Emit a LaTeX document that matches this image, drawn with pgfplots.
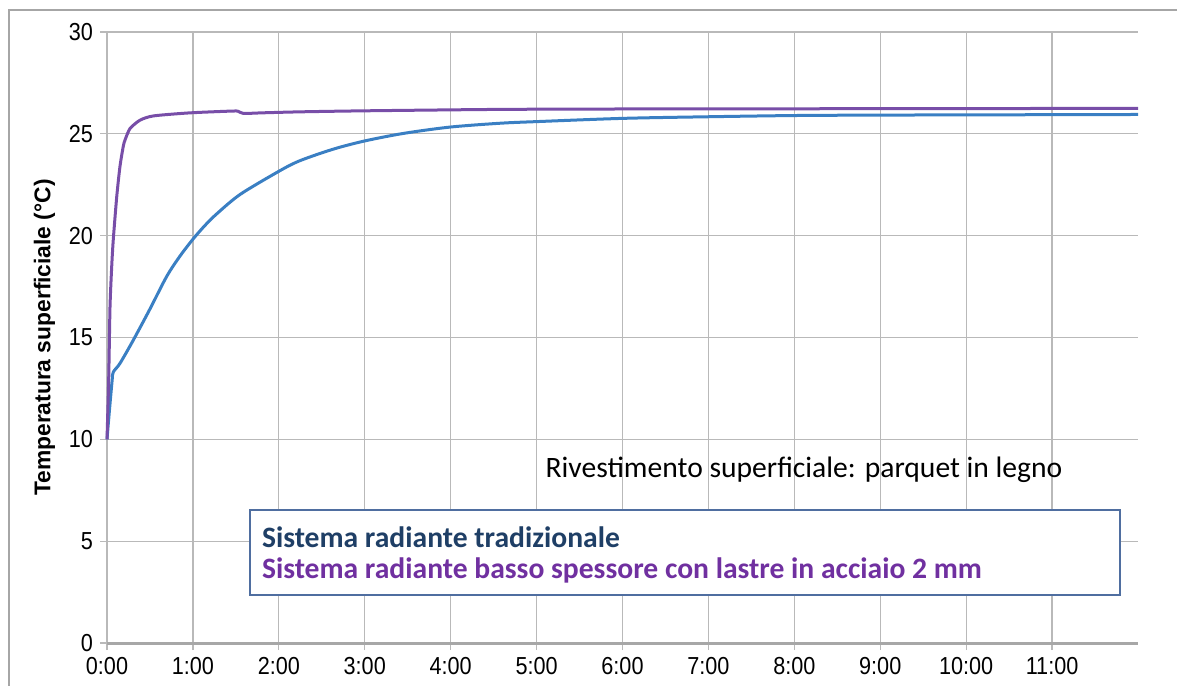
\documentclass[border=0pt]{standalone}
\usepackage{pgfplots}
\pgfplotsset{compat=1.18}
\usepackage{fontspec}
\setmainfont{Liberation Sans}
\newfontfamily\calibri{Carlito}
\newfontfamily\narrowf[FakeStretch=0.88]{Liberation Sans}
\definecolor{gridc}{RGB}{185,185,185}
\definecolor{bluec}{RGB}{58,127,195}
\definecolor{purplec}{RGB}{120,78,168}
\definecolor{navyc}{RGB}{31,63,102}
\definecolor{legpurple}{RGB}{112,48,160}
\definecolor{boxc}{RGB}{79,110,160}
\begin{document}
\begin{tikzpicture}
\useasboundingbox (-53.5pt,-21pt) rectangle (535pt,321.5pt);
\draw[gray!70, line width=0.8pt] (-49pt,-30pt) -- (-49pt,316.5pt) -- (540pt,316.5pt);
\begin{axis}[
  at={(0,0)}, anchor=south west,
  scale only axis,
  width=515.5pt, height=305.5pt,
  xmin=0, xmax=12, ymin=0, ymax=30,
  xtick={0,1,...,11},
  xticklabels={0:00,1:00,2:00,3:00,4:00,5:00,6:00,7:00,8:00,9:00,10:00,11:00},
  ytick={0,5,...,30},
  xtick pos=bottom, ytick pos=left,
  tick align=outside,
  major tick length=3.5pt,
  tick style={gridc, line width=0.6pt},
  grid=major,
  major grid style={gridc, line width=0.6pt},
  axis line style={draw=none},
  /pgf/number format/assume math mode=true,
  ticklabel style={font=\narrowf\fontsize{12.3pt}{14pt}\selectfont},
  ylabel={\textbf{Temperatura superficiale (°C)}},
  ylabel style={font=\fontsize{11.4pt}{13pt}\selectfont, yshift=0pt},
  clip=false,
]
\draw[gridc!90!black, line width=1.5pt] (axis cs:0,0) -- (axis cs:12,0);
\addplot[bluec, line width=1.5pt, smooth, tension=0.5] coordinates {
(0,10) (0.03,11.5) (0.06,12.9) (0.073,13.3) (0.151,13.73) (0.306,14.87)
(0.5,16.4) (0.695,18.0) (0.85,19.0) (1.005,19.85) (1.14,20.5) (1.277,21.07)
(1.548,22.02) (1.975,23.1) (2.2,23.6) (2.44,23.98) (2.7,24.33) (3.02,24.67)
(3.45,25.02) (3.99,25.33) (4.575,25.52) (5.0,25.6) (6.01,25.76) (7.02,25.84)
(8.03,25.9) (9,25.92) (10,25.93) (11,25.94) (12,25.95)
};
\addplot[purplec, line width=1.5pt, smooth, tension=0.4] coordinates {
(0,10) (0.02,13) (0.035,16.5) (0.055,18.5) (0.073,19.8) (0.113,21.9)
(0.151,23.4) (0.19,24.4) (0.21,24.7) (0.268,25.26) (0.384,25.67)
(0.54,25.88) (0.966,26.03) (1.47,26.12) (1.53,26.1) (1.59,26.0) (1.8,26.03)
(2.25,26.08) (3,26.13) (4.575,26.2) (6,26.22) (8,26.23) (10,26.24) (12,26.25)
};
\node[anchor=west, inner sep=0pt, font=\calibri\fontsize{14.8pt}{17pt}\selectfont]
  at (axis cs:5.10,8.49) {Rivestimento superficiale: parquet in legno};
\draw[boxc, line width=0.75pt, fill=white] (axis cs:1.665,2.36) rectangle (axis cs:11.79,6.53);
\node[anchor=west, inner sep=0pt, text=navyc, font=\calibri\bfseries\fontsize{14.8pt}{17pt}\selectfont]
  at (axis cs:1.80,5.2) {Sistema radiante tradizionale};
\node[anchor=west, inner sep=0pt, text=legpurple, font=\calibri\bfseries\fontsize{14.8pt}{17pt}\selectfont]
  at (axis cs:1.80,3.58) {Sistema radiante basso spessore con lastre in acciaio 2 mm};
\end{axis}
\end{tikzpicture}
\end{document}
